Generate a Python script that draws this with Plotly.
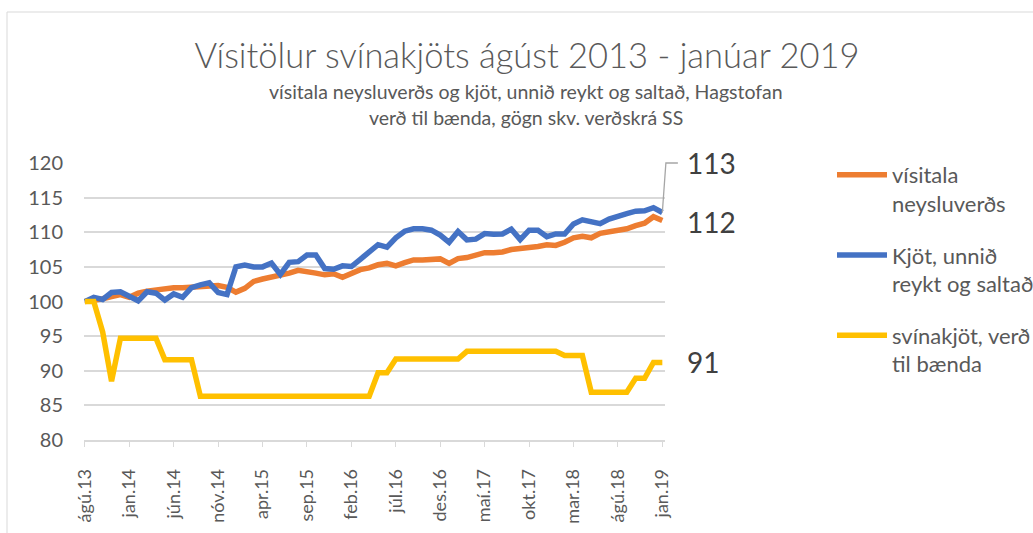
import plotly.graph_objects as go

tick_labels = ["ágú.13", "jan.14", "jún.14", "nóv.14", "apr.15", "sep.15", "feb.16",
               "júl.16", "des.16", "maí.17", "okt.17", "mar.18", "ágú.18", "jan.19"]

visitala = [100.0, 100.15, 100.4, 100.7, 101.0, 100.6, 101.2, 101.5, 101.7, 101.8,
            102.0, 102.0, 102.1, 102.2, 102.3, 102.3, 102.05, 101.35, 101.9, 102.9,
            103.25, 103.5, 103.75, 104.1, 104.5, 104.2, 104.1, 103.85, 104.0, 103.5,
            104.1, 104.6, 104.85, 105.3, 105.5, 105.15, 105.6, 106.0, 106.0, 106.0,
            106.15, 105.5, 106.2, 106.35, 106.8, 107.05, 107.05, 107.15, 107.5, 107.6,
            107.85, 107.95, 108.2, 108.1, 108.55, 109.2, 109.4, 109.2, 109.85, 110.0,
            110.15, 110.5, 110.95, 111.3, 112.25, 111.7]

kjot = [100.0, 100.6, 100.3, 101.3, 101.4, 100.8, 100.1, 101.4, 101.2, 100.2,
        101.1, 100.6, 102.0, 102.4, 102.7, 101.3, 101.0, 105.0, 105.25, 105.0,
        105.0, 105.55, 103.9, 105.65, 105.75, 106.7, 106.7, 104.75, 104.65, 105.15,
        105.05, 106.1, 107.05, 108.2, 107.85, 109.2, 110.15, 110.5, 110.5, 110.3,
        109.6, 108.55, 110.1, 108.9, 109.0, 109.8, 109.7, 109.75, 110.45, 108.95,
        110.3, 110.3, 109.35, 109.75, 109.75, 111.2, 111.8, 111.45, 111.25, 111.9,
        112.4, 112.7, 113.05, 113.1, 113.55, 112.85]

svinakjot = [100.0, 100.0, 95.6, 88.5, 94.7, 94.7, 94.7, 94.7, 94.7, 91.6,
             91.6, 91.6, 91.6, 86.3, 86.3, 86.3, 86.3, 86.3, 86.3, 86.3,
             86.3, 86.3, 86.3, 86.3, 86.3, 86.3, 86.3, 86.3, 86.3, 86.3,
             86.3, 86.3, 86.3, 89.7, 89.7, 91.7, 91.7, 91.7, 91.7, 91.7,
             91.7, 91.7, 91.7, 92.8, 92.8, 92.8, 92.8, 92.8, 92.8, 92.8,
             92.8, 92.8, 92.8, 92.8, 92.2, 92.2, 92.2, 86.9, 86.9, 86.9,
             86.9, 86.9, 88.9, 88.9, 91.2, 91.2]

series_names = ["vísitala<br>neysluverðs", "Kjöt, unnið<br>reykt og saltað", "svínakjöt, verð<br>til bænda"]
series_colors = ["#ED7D31", "#4472C4", "#FFC000"]
end_labels = ["112", "113", "91"]

x = list(range(len(visitala)))
tickvals = list(range(0, len(visitala), 5))

FONT = "Lato"
GRAY = "#595959"

XMIN, XMAX = -0.1, 65.3
YMIN, YMAX = 80, 120

fig = go.Figure()
for i, (vals, name, col) in enumerate(zip([visitala, kjot, svinakjot], series_names, series_colors)):
    fig.add_trace(go.Scatter(x=x, y=vals, mode="lines", name=name, legendgroup=f"g{i}",
                             line=dict(color=col, width=5.5), hoverinfo="skip"))

def px_x(v):
    return (v - XMIN) / (XMAX - XMIN)

def px_y(v):
    return (v - YMIN) / (YMAX - YMIN)

last = x[-1]
# leader line for the Kjöt label
fig.add_shape(type="path", xref="paper", yref="paper",
              path=f"M {px_x(last)} {px_y(kjot[-1])} L {px_x(last + 0.4)} {px_y(YMAX)} L {px_x(last + 1.75)} {px_y(YMAX)}",
              line=dict(color="#a6a6a6", width=1.3))

label_y = [visitala[-1] - 0.2, YMAX, svinakjot[-1]]
for txt, yv in zip(end_labels, label_y):
    fig.add_annotation(x=px_x(last + 2.6), y=px_y(yv), xref="paper", yref="paper",
                       text=txt, showarrow=False, xanchor="left", yanchor="middle",
                       font=dict(family=FONT, size=28, color="#404040"))

for txt, ypx in [("vísitala neysluverðs og kjöt, unnið reykt og saltað, Hagstofan", 92),
                 ("verð til bænda, gögn skv. verðskrá SS", 118)]:
    fig.add_annotation(x=(526 - 84) / 581, y=(440 - ypx) / 277, xref="paper", yref="paper",
                       text=txt, showarrow=False, xanchor="center", yanchor="middle",
                       font=dict(family=FONT, size=19.5, color=GRAY))

# chart border
fig.add_shape(type="rect", xref="paper", yref="paper",
              x0=(7 - 84) / 581, x1=2.0, y0=-1.0, y1=(440 - 12) / 277,
              line=dict(color="#d9d9d9", width=1), layer="below")

fig.update_layout(
    width=1033, height=533,
    margin=dict(l=84, r=368, t=163, b=93, autoexpand=False),
    paper_bgcolor="white", plot_bgcolor="white",
    font=dict(family=FONT, color=GRAY),
    title=dict(text="Vísitölur svínakjöts ágúst 2013 - janúar 2019",
               x=527 / 1033, xanchor="center", xref="container",
               y=1 - 56 / 533, yanchor="middle", yref="container",
               font=dict(family=FONT, size=34.5, color=GRAY, weight=300)),
    showlegend=True,
    legend=dict(x=(832 - 84) / 581, y=(440 - 154) / 277, xanchor="left", yanchor="top",
                font=dict(family=FONT, size=22, color=GRAY), valign="top",
                traceorder="grouped", tracegroupgap=20, bgcolor="rgba(0,0,0,0)",
                itemwidth=50),
    xaxis=dict(range=[XMIN, XMAX], tickmode="array", tickvals=tickvals, ticktext=tick_labels,
               tickangle=-90, showgrid=False, zeroline=False, showline=True,
               linecolor="#d9d9d9", linewidth=1.5, ticks="outside", ticklen=5,
               tickcolor="#d9d9d9", tickfont=dict(family=FONT, size=18, color=GRAY),
               ticklabelstandoff=15, automargin=False),
    yaxis=dict(range=[YMIN, YMAX], dtick=5, showgrid=True, gridcolor="#d9d9d9", gridwidth=1.5,
               zeroline=False, showline=False, ticks="", automargin=False,
               tickfont=dict(family=FONT, size=20, color=GRAY), ticklabelstandoff=20),
)

fig.write_html("out.html", config={"displayModeBar": False},
               post_script="document.body.style.margin='0px';")
